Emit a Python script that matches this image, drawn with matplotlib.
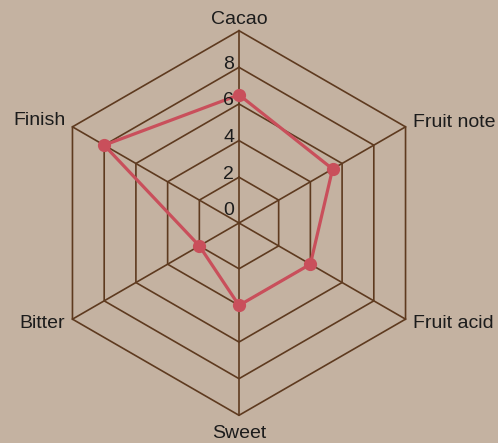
import numpy as np
import matplotlib
matplotlib.use("Agg")
import matplotlib.pyplot as plt
from matplotlib import transforms

plt.rcParams['font.family'] = ['Liberation Sans', 'DejaVu Sans']

categories = ["Cacao", "Fruit note", "Fruit acid", "Sweet", "Bitter", "Finish"]
values = [6.5, 5.4, 4.0, 4.0, 2.0, 8.0]
tick_values = [0, 2, 4, 6, 8]
tick_labels = ["0", "2", "4", "6", "8"]
ring_values = [2, 4, 6, 8, 10]
r_min, r_max = -0.5, 10.0

bg = "#c4b2a1"
grid_c = "#5e3a1f"
line_c = "#c94f5b"
text_c = "#1c1c1c"

W, H, DPI = 498, 443, 100
fig = plt.figure(figsize=(W / DPI, H / DPI), dpi=DPI, facecolor=bg)
ax = fig.add_axes([0, 0, 1, 1])
ax.set_facecolor(bg)
ax.set_axis_off()

# pixel geometry -> data limits
cx, cy, Rpx = 239.0, 223.0, 192.3
R = r_max - r_min
s = Rpx / R
ax.set_xlim(-cx / s, (W - cx) / s)
ax.set_ylim(-(H - cy) / s, cy / s)

n = len(categories)
angles = np.pi / 2 - np.arange(n) * 2 * np.pi / n


def xy(v, a):
    r = v - r_min
    return r * np.cos(a), r * np.sin(a)

# rings
for rv in ring_values:
    xs, ys = xy(rv, np.append(angles, angles[0]))
    ax.plot(xs, ys, color=grid_c, lw=1.2, zorder=1, solid_joinstyle='miter')
# spokes
for a in angles:
    x0, y0 = xy(r_min, a)
    x1, y1 = xy(r_max, a)
    ax.plot([x0, x1], [y0, y1], color=grid_c, lw=1.2, zorder=1)

# data
vals = np.array(values)
xs, ys = xy(np.append(vals, vals[0]), np.append(angles, angles[0]))
ax.plot(xs, ys, color=line_c, lw=2.3, zorder=3)
ax.plot(xs[:-1], ys[:-1], 'o', color=line_c, ms=8.5, zorder=4)

# radial tick labels
off = transforms.offset_copy(ax.transData, fig=fig, x=-5, y=-1.5, units='dots')
for tv, tl in zip(tick_values, tick_labels):
    x, y = xy(tv, np.pi / 2)
    ax.text(x, y, tl, transform=off, ha='right', va='baseline',
            fontsize=14, color=text_c, zorder=5)

# category labels
lab_specs = [
    (0, 6.5, 'center', 'baseline'),
    (7, 4, 'left', 'center'),
    (7, -4, 'left', 'center'),
    (0, -9.5, 'center', 'top'),
    (-7, -4, 'right', 'center'),
    (-7, 6, 'right', 'center'),
]
for c, a, (dx, dy, ha, va) in zip(categories, angles, lab_specs):
    x, y = xy(r_max, a)
    t = transforms.offset_copy(ax.transData, fig=fig, x=dx, y=dy, units='dots')
    ax.text(x, y, c, transform=t, ha=ha, va=va, fontsize=14, color=text_c)

fig.savefig("out.png", dpi=DPI, facecolor=bg)
